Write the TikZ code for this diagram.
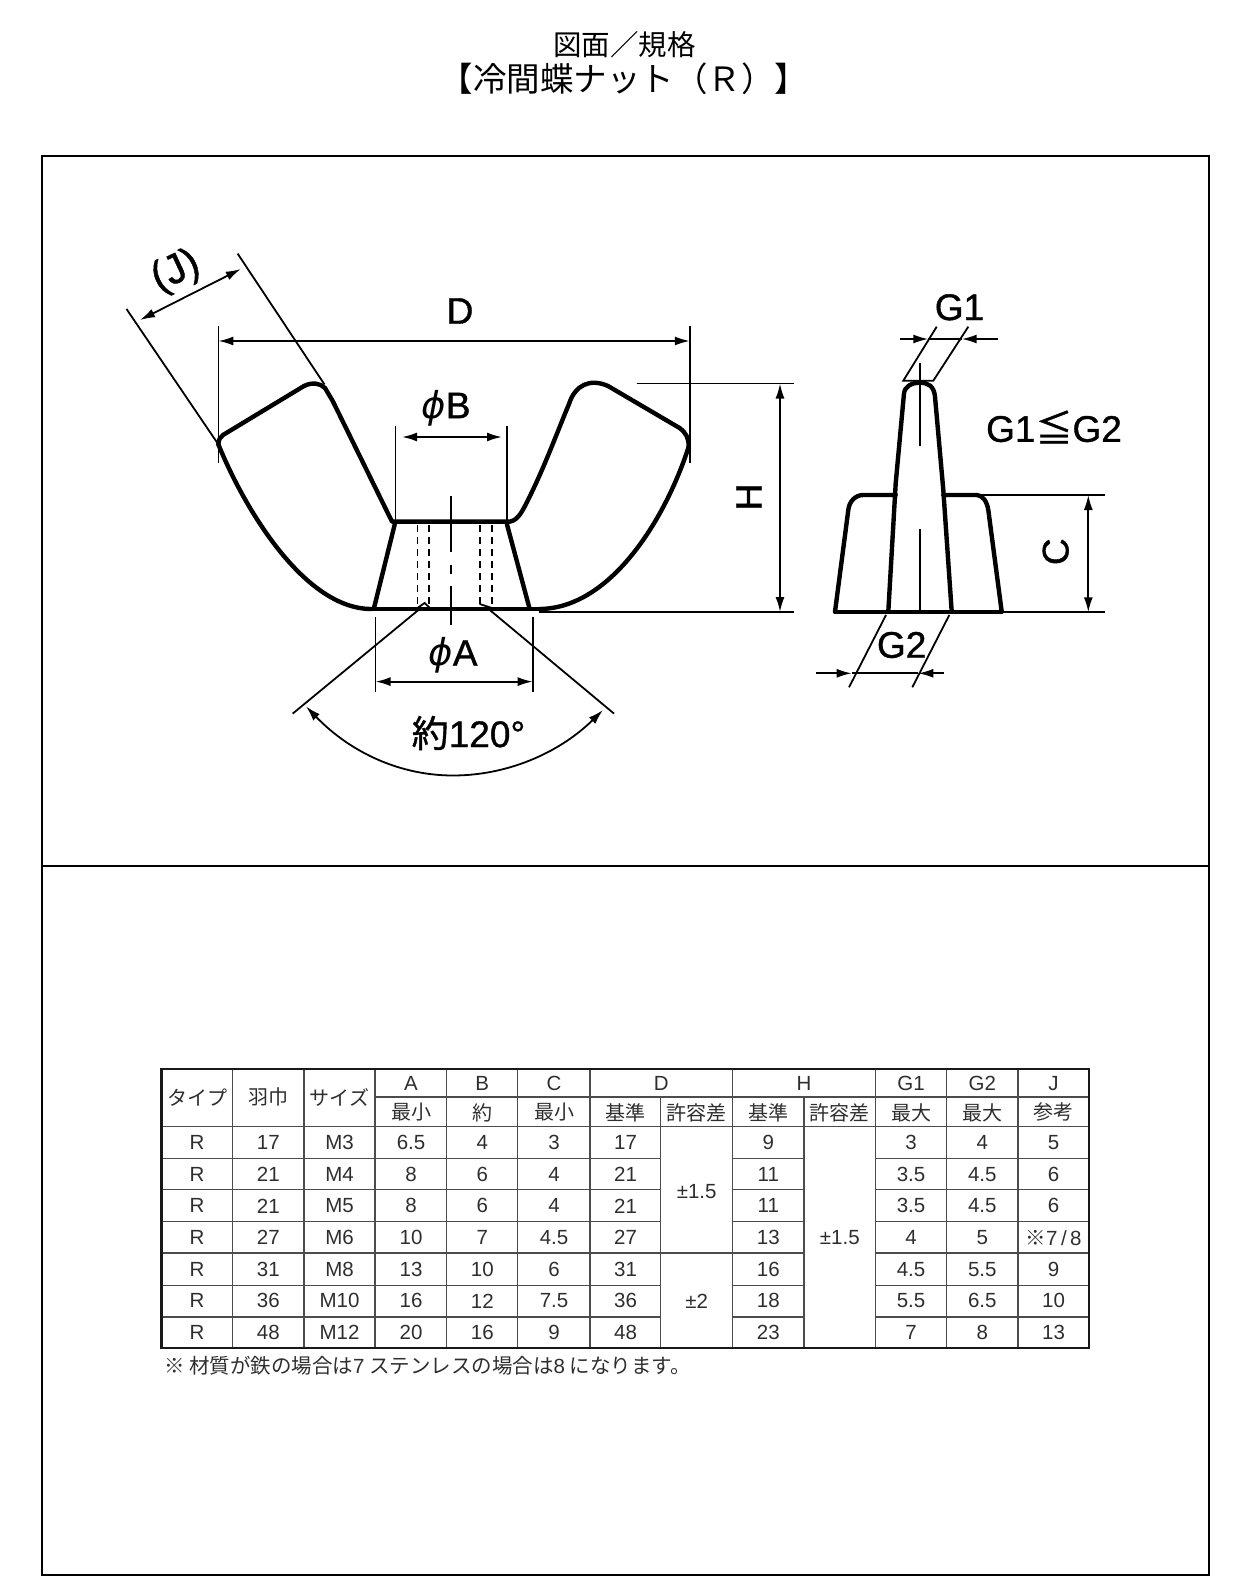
\documentclass[tikz,border=0pt]{standalone}
\usepackage{fontspec}
\usetikzlibrary{arrows.meta}
\setmainfont{Liberation Sans}
\newfontfamily\cjk{Noto Sans CJK JP}
\newfontfamily\cjkdim{Noto Sans CJK JP}[FakeBold=1]
\newfontfamily\dimfont{Liberation Sans}[FakeBold=1]
\newfontfamily\phifont{DejaVu Sans}
\tikzset{
  outline/.style={line width=4.4pt,line join=round,line cap=round},
  thinline/.style={line width=1.8pt},
  hidline/.style={line width=1.8pt,dash pattern=on 7pt off 5pt},
  dimtext/.style={inner sep=0pt,font=\fontsize{37}{37}\selectfont\dimfont},
  celltext/.style={inner sep=0pt,text=black!82,font=\fontsize{20.5}{21}\selectfont},
  headtext/.style={inner sep=0pt,text=black!82,font=\fontsize{20}{21}\selectfont\cjk},
  tabline/.style={line width=1.3pt,draw=black!70},
}
\begin{document}
\begin{tikzpicture}[x=1pt,y=-1pt,>={Latex[length=15pt,width=9pt]}]
    \useasboundingbox(0,0)rectangle(1240,1578);
    % title
    \node[inner sep=0pt,font=\fontsize{28.5}{29}\selectfont\cjk](titleA)at(624.5,45){図面／規格};
    \node[inner sep=0pt,font=\fontsize{33.5}{34}\selectfont\cjk](titleB)at(624,79){【冷間蝶ナット（Ｒ）】};
    % frame
    \draw[line width=2pt](41.7,156)rectangle(1209,1575);
    \draw[line width=2pt](41.7,866)--(1209,866);
    % wing nut, front view
    \draw[outline](218.4,444.5)..controls(245,510)and(305,609)..(371.4,609);
    \draw[outline](218.4,444.5)..controls(218.5,440)and(220,437)..(223,435)--(304,386)
        ..controls(312,382)and(320,383)..(325,388)--(332.7,401)--(392,521.6)--(510,521.6)
        ..controls(518,520)and(522,512)..(528,500)..controls(545,466)and(558,430)..(569,404)
        ..controls(575,385)and(590,378)..(608,386)--(679.6,428)
        ..controls(686,433)and(689,438)..(688.6,447);
    \draw[outline](688.6,447)..controls(665,520)and(610,609)..(538.8,609);
    \draw[outline](394.7,524.5)--(374,608);
    \draw[outline](507,524.5)--(529.4,608);
    \draw[outline](371.4,609)--(538.8,609);
    \foreach \x in {417.5,428.6,479.6,491.8}
        \draw[hidline](\x,525)--(\x,608);
    \draw[thinline](417.5,608)--(424.5,603)--(430,608);
    \draw[thinline](479.6,604)--(491.8,608);
    \draw[thinline](451,496)--(451,552);
    \draw[thinline](451,564.5)--(451,573.6);
    \draw[thinline](451,586)--(451,624.5);
    % J
    \draw[thinline](126.5,309)--(218.4,444.5);
    \draw[thinline](237.6,253.6)--(324.5,384.5);
    \draw[thinline,<->](140,320)--(240.8,269);
    \node[dimtext,rotate=25,scale=1.12](labelJ)at(176,272){(J)};
    % D
    \draw[thinline](218.4,326.4)--(218.4,462.7);
    \draw[thinline](689.8,326.4)--(689.8,462.7);
    \draw[thinline,<->](218.4,341)--(689.8,341);
    \node[dimtext](labelD)at(460,311){D};
    % B
    \draw[thinline](395.5,425.6)--(395.5,521);
    \draw[thinline](507,425.6)--(507,521);
    \draw[thinline,<->](402,437)--(502,437);
    \node[dimtext](labelB)at(446,408){{\phifont\itshape ϕ}B};
    % A
    \draw[thinline](375.5,617.3)--(375.5,692);
    \draw[thinline](532.7,617.3)--(532.7,692);
    \draw[thinline,<->](375.5,681.6)--(532.7,681.6);
    \node[dimtext](labelA)at(453,655.5){{\phifont\itshape ϕ}A};
    % angle
    \draw[thinline](418.4,610)--(292.7,713.6);
    \draw[thinline](489.8,610)--(614,713.6);
    \draw[thinline,<->](306,706.4)..controls(352,754)and(402,775.5)..(453,775.5)
        ..controls(506,775.5)and(558,754)..(603,710);
    \node[dimtext](labelAngle)at(468.5,733){{\cjkdim 約}120°};
    % H
    \draw[thinline](636.7,383.5)--(794,383.5);
    \draw[thinline](538.8,612)--(794,612);
    \draw[thinline,<->](780,383.5)--(780,612);
    \node[dimtext,rotate=90](labelH)at(749,497){H};
    % side view
    \draw[outline](888.3,611.7)--(895.7,483.3)--(904,393.3)..controls(905,386)and(912,382.7)..(920,382.7)
        ..controls(928,382.7)and(934,386)..(935,396.7)--(943.3,490)--(951.7,611.7);
    \draw[outline](895.7,495)--(863.3,495)..controls(855,495)and(849,502)..(848.3,510)--(835,611.7);
    \draw[outline](943.3,495)--(976.7,495)..controls(983,495)and(987,502)..(988.3,510)--(1001.7,611.7);
    \draw[outline](835,611.7)--(1001.7,611.7);
    \draw[thinline](920,363.3)--(920,446);
    \draw[thinline](920,529.3)--(920,611.7);
    % G1
    \draw[thinline](936.7,326.7)--(903.3,380.7)--(933.3,380.7)--(968.3,326.7);
    \draw[thinline,->](900,339)--(928.3,339);
    \draw[thinline,->](998.3,339)--(961.7,339);
    \draw[thinline](928.3,339)--(961.7,339);
    \node[dimtext](labelGa)at(959.5,307.3){G1};
    \node[dimtext](labelGb)at(1054,427){G1{\cjkdim ≦}G2};
    % G2
    \draw[thinline](886,615)--(849,687.3);
    \draw[thinline](949.3,615)--(912.3,687.3);
    \draw[thinline,->](816,673.3)--(851.7,673.3);
    \draw[thinline,->](944,673.3)--(918.3,673.3);
    \draw[thinline](851.7,673.3)--(918.3,673.3);
    \node[dimtext](labelGc)at(901.7,645){G2};
    % C
    \draw[thinline](980,495)--(1105,495);
    \draw[thinline](1003.3,612.3)--(1105,612.3);
    \draw[thinline,<->](1088.3,495)--(1088.3,612.3);
    \node[dimtext,rotate=90](labelC)at(1055.7,551.7){C};
    \begin{scope}[shift={(.8,.4)}]
    % table lines
    \foreach \x in {231.7,303.3}
        \draw[tabline](\x,1068.3)--(\x,1347.7);
    \foreach \x in {374.3,446,517,589.3,731.7,874.7,945.7,1017.3}
        \draw[tabline](\x,1068.3)--(\x,1347.7);
    \foreach \x in {660,803.3}
        \draw[tabline](\x,1096.7)--(\x,1347.7);
    \draw[tabline](374.3,1096.7)--(1088.3,1096.7);
    \draw[tabline](160.7,1126)--(1088.3,1126);
    \foreach \y in {1158.3,1189.3,1221,1252.7,1285,1316.7}{
        \draw[tabline](160.7,\y)--(660,\y);
        \draw[tabline](731.7,\y)--(803.3,\y);
        \draw[tabline](874.7,\y)--(1088.3,\y);
    }
    \draw[tabline](660,1252.7)--(731.7,1252.7);
    \draw[line width=2.4pt,draw=black!90](160.7,1068.3)rectangle(1088.3,1347.7);
    % table head
    \node[headtext](headType)at(196.2,1097){タイプ};
    \node[headtext](headWidth)at(267.5,1097){羽巾};
    \node[headtext](headSize)at(338.8,1097){サイズ};
    \foreach \x/\t [count=\c] in {410.2/A,481.5/B,553.2/C,660.5/D,803.2/H,910.2/G1,981.5/G2,1052.8/J}
        \node[celltext](top\c)at(\x,1083){\t};
    \foreach \x/\t [count=\c] in {410.2/最小,481.5/約,553.2/最小,624.7/基準,695.9/許容差,767.5/基準,839/許容差,910.2/最大,981.5/最大,1052.8/参考}
        \node[headtext](sub\c)at(\x,1112){\t};
    % table body
    \foreach \x/\vals [count=\c] in {
        196.2/{R,R,R,R,R,R,R},
        267.5/{17,21,21,27,31,36,48},
        338.8/{M3,M4,M5,M6,M8,M10,M12},
        410.2/{6.5,8,8,10,13,16,20},
        481.5/{4,6,6,7,10,12,16},
        553.2/{3,4,4,4.5,6,7.5,9},
        624.7/{17,21,21,27,31,36,48},
        767.5/{9,11,11,13,16,18,23},
        910.2/{3,3.5,3.5,4,4.5,5.5,7},
        981.5/{4,4.5,4.5,5,5.5,6.5,8},
        1052.8/{5,6,6,{{\cjk ※}7\,/\,8},9,10,13}}
        \foreach \v [count=\r] in \vals
            \node[celltext](cell\c-\r)at(\x,{1142.2+31.65*(\r-1)}){\v};
    \node[celltext](tolDa)at(695.9,1190.7){±1.5};
    \node[celltext](tolDb)at(695.9,1300.7){±2};
    \node[celltext](tolH)at(839,1237){±1.5};
    \node[celltext,anchor=west,font=\fontsize{20.5}{21}\selectfont\cjk](noteText)at(163,1365){※ 材質が鉄の場合は{\rmfamily 7} ステンレスの場合は{\rmfamily 8} になります。};
    \end{scope}
\end{tikzpicture}
\end{document}
